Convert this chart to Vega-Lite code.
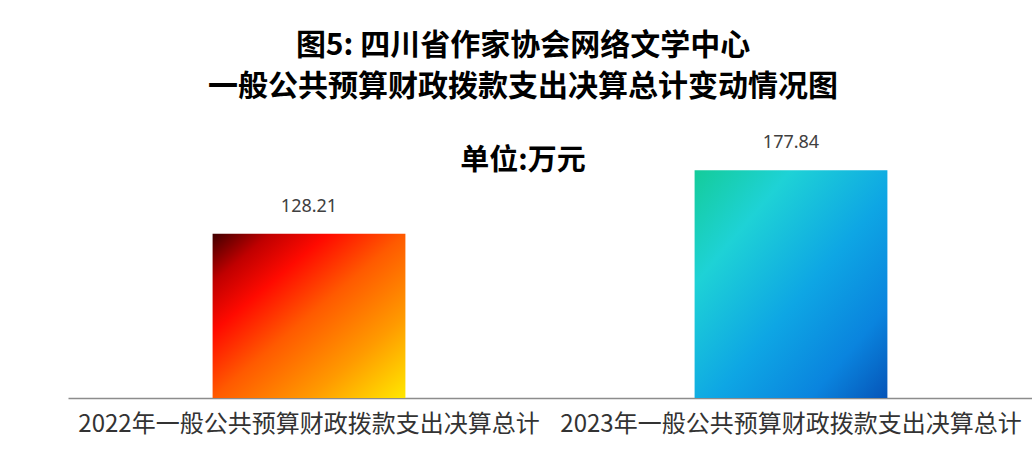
{
  "$schema": "https://vega.github.io/schema/vega-lite/v6.json",
  "autosize": {"type": "none"},
  "width": 964,
  "height": 290,
  "padding": {"left": 68, "top": 108, "right": 0, "bottom": 60},
  "background": "white",
  "title": {
    "text": ["图5: 四川省作家协会网络文学中心", "一般公共预算财政拨款支出决算总计变动情况图"],
    "subtitle": "单位:万元",
    "font": "Noto Sans CJK SC",
    "fontSize": 30,
    "fontWeight": "bold",
    "lineHeight": 41,
    "color": "#000000",
    "subtitleFont": "Noto Sans CJK SC",
    "subtitleFontSize": 29,
    "subtitleFontWeight": "bold",
    "subtitleColor": "#000000",
    "subtitlePadding": 45,
    "anchor": "middle",
    "dx": -27,
    "offset": -68
  },
  "data": {
    "values": [
      {"item": "2022年一般公共预算财政拨款支出决算总计", "year": "2022", "amount": 128.21},
      {"item": "2023年一般公共预算财政拨款支出决算总计", "year": "2023", "amount": 177.84}
    ]
  },
  "encoding": {
    "x": {
      "field": "item",
      "type": "nominal",
      "sort": null,
      "scale": {"paddingInner": 0.6, "paddingOuter": 0.3},
      "axis": {
        "title": null,
        "labelAngle": 0,
        "labelFont": "Noto Sans CJK SC",
        "labelFontSize": 24,
        "labelColor": "#333333",
        "labelPadding": 14,
        "labelLimit": 0,
        "labelOverlap": false,
        "ticks": false,
        "grid": false,
        "domainColor": "#8c8c8c",
        "domainWidth": 1.5
      }
    },
    "y": {
      "field": "amount",
      "type": "quantitative",
      "scale": {"domain": [0, 226.5], "nice": false},
      "axis": null
    }
  },
  "layer": [
    {
      "transform": [{"filter": "datum.year === '2022'"}],
      "mark": {
        "type": "bar",
        "fill": {
          "gradient": "linear",
          "x1": 0, "y1": 0, "x2": 1, "y2": 1,
          "stops": [
            {"offset": 0, "color": "#400000"},
            {"offset": 0.15, "color": "#c00000"},
            {"offset": 0.3, "color": "#ff0a00"},
            {"offset": 0.5, "color": "#ff5a00"},
            {"offset": 0.75, "color": "#ff9a00"},
            {"offset": 1, "color": "#ffe800"}
          ]
        }
      }
    },
    {
      "transform": [{"filter": "datum.year === '2023'"}],
      "mark": {
        "type": "bar",
        "fill": {
          "gradient": "linear",
          "x1": 0, "y1": 0, "x2": 1, "y2": 1,
          "stops": [
            {"offset": 0, "color": "#14cc9a"},
            {"offset": 0.25, "color": "#1ed2d6"},
            {"offset": 0.55, "color": "#0ea6e4"},
            {"offset": 0.8, "color": "#0a84de"},
            {"offset": 1, "color": "#0655b8"}
          ]
        }
      }
    },
    {
      "mark": {
        "type": "text",
        "baseline": "bottom",
        "dy": -18,
        "font": "Noto Sans",
        "fontSize": 18,
        "color": "#404040"
      },
      "encoding": {
        "text": {"field": "amount", "type": "quantitative", "format": ".2f"}
      }
    }
  ],
  "config": {
    "view": {"stroke": null}
  }
}
